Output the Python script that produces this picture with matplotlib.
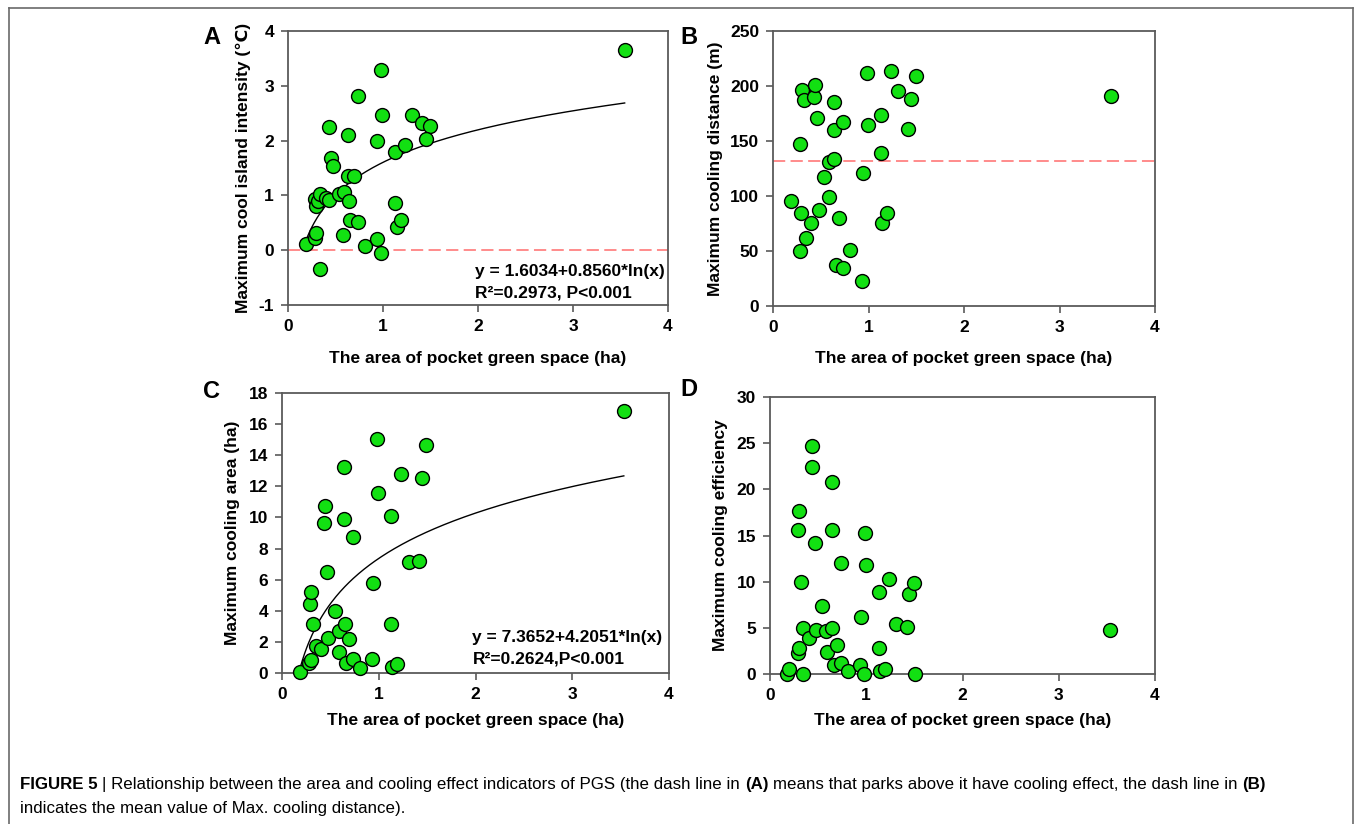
import numpy as np
import matplotlib
matplotlib.use("Agg")
import matplotlib.pyplot as plt
from matplotlib.lines import Line2D

plt.rcParams['font.family'] = ['Liberation Sans', 'DejaVu Sans']
plt.rcParams['axes.unicode_minus'] = False

# ---------------- data ----------------
area_a = [0.186, 0.333, 0.281, 0.291, 0.281, 0.291, 0.319, 0.340, 0.396, 0.435,
          0.428, 0.456, 0.474, 0.540, 0.586, 0.582, 0.635, 0.632, 0.695, 0.639,
          0.656, 0.733, 0.737, 0.807, 0.933, 0.933, 0.982, 0.989, 0.975, 1.126,
          1.126, 1.144, 1.189, 1.235, 1.309, 1.414, 1.495, 1.449, 3.544]
intensity = [0.12, -0.35, 0.23, 0.32, 0.94, 0.80, 0.90, 1.03, 0.95, 0.91,
             2.24, 1.68, 1.53, 1.02, 1.06, 0.27, 2.10, 1.35, 1.35, 0.89,
             0.55, 2.82, 0.51, 0.07, 2.00, 0.21, 3.28, 2.46, -0.05, 1.80,
             0.87, 0.43, 0.56, 1.92, 2.46, 2.32, 2.26, 2.03, 3.66]

area_b = [0.189, 0.283, 0.283, 0.294, 0.301, 0.322, 0.346, 0.402, 0.430, 0.437,
          0.458, 0.479, 0.538, 0.584, 0.587, 0.643, 0.636, 0.640, 0.657, 0.696,
          0.734, 0.738, 0.808, 0.934, 0.941, 0.983, 0.990, 1.126, 1.129, 1.143,
          1.189, 1.238, 1.311, 1.416, 1.448, 1.497, 3.544]
distance = [95.4, 147, 50, 84.8, 196.6, 187.5, 61.6, 75.3, 190.2, 200.6,
            171.3, 87.5, 117.7, 98.8, 131.1, 133.8, 159.8, 185, 37.2, 79.6,
            167.1, 34.5, 50.9, 22.6, 121, 211.6, 164.6, 138.7, 173.8, 75.3,
            84.1, 213.7, 195.1, 161, 188.4, 209.1, 190.8]
mean_distance = 131.4

area_c = [0.189, 0.282, 0.296, 0.285, 0.302, 0.323, 0.347, 0.405, 0.433, 0.440,
          0.464, 0.478, 0.543, 0.584, 0.588, 0.639, 0.636, 0.646, 0.660, 0.694,
          0.732, 0.739, 0.808, 0.935, 0.938, 0.983, 0.990, 1.127, 1.124, 1.141,
          1.186, 1.234, 1.309, 1.412, 1.450, 1.491, 3.533]
cool_area = [0.09, 0.62, 0.84, 4.43, 5.23, 3.14, 1.74, 1.53, 9.64, 10.72,
             6.50, 2.26, 3.98, 2.73, 1.38, 13.24, 9.90, 3.14, 0.65, 2.17,
             8.74, 0.93, 0.30, 0.90, 5.77, 15.03, 11.60, 10.08, 3.14, 0.37,
             0.56, 12.79, 7.13, 7.21, 12.51, 14.68, 16.83]

area_d = [0.179, 0.197, 0.341, 0.286, 0.300, 0.348, 0.324, 0.286, 0.300, 0.438,
          0.441, 0.400, 0.483, 0.466, 0.541, 0.586, 0.590, 0.648, 0.641, 0.641,
          0.669, 0.697, 0.741, 0.734, 0.810, 0.938, 0.945, 0.976, 0.983, 0.993,
          1.134, 1.131, 1.145, 1.190, 1.241, 1.314, 1.421, 1.448, 1.497, 1.503, 3.530]
efficiency = [0.04, 0.51, 0.04, 2.27, 2.82, 5.02, 9.96, 15.63, 17.6, 22.45,
              24.66, 3.86, 4.77, 14.15, 7.36, 4.69, 2.35, 4.95, 20.76, 15.6,
              0.97, 3.14, 1.23, 12.0, 0.32, 0.97, 6.17, 0.04, 15.31, 11.77,
              8.88, 2.82, 0.32, 0.51, 10.32, 5.45, 5.13, 8.66, 9.85, 0.04, 4.8]

# fitted logarithmic models shown on the chart
fit_a = (1.6034, 0.8560)
fit_c = (7.3652, 4.2051)

x_ticks = [0, 1, 2, 3, 4]
xlabel = "The area of pocket green space (ha)"

# ---------------- figure ----------------
W, H = 1355, 824
fig = plt.figure(figsize=(W / 100, H / 100), dpi=100)


def add_ax(l, t, r, b):
    return fig.add_axes([l / W, 1 - b / H, (r - l) / W, (b - t) / H])


SPINE = "#5a5a5a"
GREEN = "#12e012"
RED = "#ff6c6c"


def style(ax, ylim, yticks):
    ax.set_xlim(0, 4)
    ax.set_ylim(*ylim)
    ax.set_xticks(x_ticks)
    ax.set_yticks(yticks)
    for s in ax.spines.values():
        s.set_color(SPINE)
        s.set_linewidth(1.3)
    ax.tick_params(direction="out", length=5, width=1.2, color=SPINE,
                   labelsize=12.5, pad=5, top=False, right=False)
    for lab in ax.get_xticklabels() + ax.get_yticklabels():
        lab.set_fontweight("bold")


def scatter(ax, x, y):
    ax.scatter(x, y, s=100, c=GREEN, edgecolors="black", linewidths=1.0,
               zorder=5, clip_on=False)


def labels(ax, ylab, ylab_x, xlab_y, left, right, top, bottom):
    ax.set_ylabel(ylab, fontsize=12.5, fontweight="bold", va="center")
    ax.yaxis.set_label_coords((ylab_x - left) / (right - left), 0.5)
    ax.set_xlabel(xlabel, fontsize=12.5, fontweight="bold", va="center")
    ax.xaxis.set_label_coords(0.5, -(xlab_y - bottom) / (bottom - top))


# Panel A
LA = (288, 31, 668, 305)
axA = add_ax(*LA)
style(axA, (-1, 4), [-1, 0, 1, 2, 3, 4])
axA.axhline(0, color=RED, lw=1.1, dashes=(8, 3.5), zorder=2)
xs = np.linspace(min(area_a), max(area_a), 300)
axA.plot(xs, fit_a[0] + fit_a[1] * np.log(xs), color="black", lw=1.0, zorder=3)
scatter(axA, area_a, intensity)
labels(axA, "Maximum cool island intensity (℃)", 243, 358, LA[0], LA[2], LA[1], LA[3])
axA.text(0.492, 0.124, "y = 1.6034+0.8560*ln(x)", transform=axA.transAxes,
         fontsize=12.5, fontweight="bold", va="center", ha="left")
axA.text(0.492, 0.044, "R\u00b2=0.2973, P<0.001", transform=axA.transAxes,
         fontsize=12.5, fontweight="bold", va="center", ha="left")

# Panel B
LB = (773, 31, 1155, 306)
axB = add_ax(*LB)
style(axB, (0, 250), [0, 50, 100, 150, 200, 250])
axB.axhline(mean_distance, color=RED, lw=1.1, dashes=(8, 3.5), zorder=2)
scatter(axB, area_b, distance)
labels(axB, "Maximum cooling distance (m)", 715, 358, LB[0], LB[2], LB[1], LB[3])

# Panel C
LC = (282, 393, 669, 673)
axC = add_ax(*LC)
style(axC, (0, 18), list(range(0, 19, 2)))
xs = np.linspace(min(area_c), max(area_c), 300)
axC.plot(xs, fit_c[0] + fit_c[1] * np.log(xs), color="black", lw=1.0, zorder=3)
scatter(axC, area_c, cool_area)
labels(axC, "Maximum cooling area (ha)", 232, 720, LC[0], LC[2], LC[1], LC[3])
axC.text(0.492, 0.126, "y = 7.3652+4.2051*ln(x)", transform=axC.transAxes,
         fontsize=12.5, fontweight="bold", va="center", ha="left")
axC.text(0.492, 0.051, "R\u00b2=0.2624,P<0.001", transform=axC.transAxes,
         fontsize=12.5, fontweight="bold", va="center", ha="left")

# Panel D
LD = (770, 397, 1155, 674)
axD = add_ax(*LD)
style(axD, (0, 30), [0, 5, 10, 15, 20, 25, 30])
scatter(axD, area_d, efficiency)
labels(axD, "Maximum cooling efficiency", 720, 720, LD[0], LD[2], LD[1], LD[3])

# panel letters
for letter, px, py in [("A", 212, 37), ("B", 689, 37), ("C", 212, 391), ("D", 689, 390)]:
    fig.text(px / W, 1 - py / H, letter, fontsize=17, fontweight="bold",
             ha="center", va="center")

# outer frame
frame_kw = dict(color="#6a6a6a", lw=1.2, transform=fig.transFigure)
fig.add_artist(Line2D([9 / W, 1353 / W], [1 - 8 / H, 1 - 8 / H], **frame_kw))
fig.add_artist(Line2D([9 / W, 9 / W], [1 - 8 / H, 0], **frame_kw))
fig.add_artist(Line2D([1353 / W, 1353 / W], [1 - 8 / H, 0], **frame_kw))

# caption with mixed weights
CAP = 12.2


def caption_line(segments, x_px, y_px):
    fig.canvas.draw()
    renderer = fig.canvas.get_renderer()
    x = x_px
    for text, weight in segments:
        lead = len(text) - len(text.lstrip(" "))
        t = text.strip(" ")
        sp = fig.text(0, 0, "a a", fontsize=CAP, fontweight=weight)
        sp2 = fig.text(0, 0, "aa", fontsize=CAP, fontweight=weight)
        wsp = sp.get_window_extent(renderer).width - sp2.get_window_extent(renderer).width
        sp.remove(); sp2.remove()
        x += lead * wsp
        tt = fig.text(x / W, 1 - y_px / H, t, fontsize=CAP, fontweight=weight,
                      ha="left", va="baseline")
        x += tt.get_window_extent(renderer).width
        trail = len(text) - len(text.rstrip(" "))
        x += trail * wsp


caption_line([("FIGURE 5", "bold"),
              (" | Relationship between the area and cooling effect indicators of PGS "
               "(the dash line in ", "normal"),
              ("(A)", "bold"),
              (" means that parks above it have cooling effect, the dash line in ", "normal"),
              ("(B)", "bold")], 20, 789)
caption_line([("indicates the mean value of Max. cooling distance).", "normal")], 20, 813)

fig.savefig("out.png", dpi=100)
